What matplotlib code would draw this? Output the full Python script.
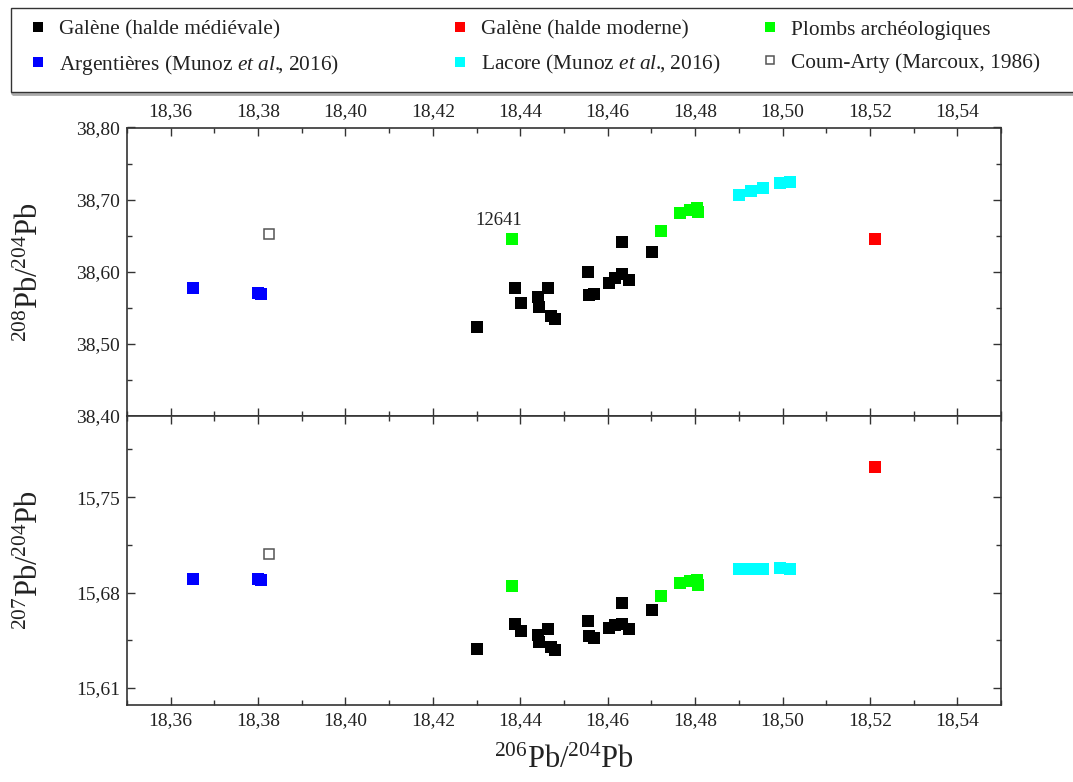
import matplotlib
matplotlib.use('Agg')
import matplotlib.pyplot as plt
from matplotlib.ticker import MultipleLocator, FuncFormatter
from matplotlib.patches import Rectangle

plt.rcParams['font.family'] = ['Liberation Serif', 'DejaVu Serif']
plt.rcParams['mathtext.fontset'] = 'custom'
plt.rcParams['mathtext.rm'] = 'Liberation Serif'
plt.rcParams['mathtext.it'] = 'Liberation Serif:italic'

# Galène (halde médiévale)
med_206 = [18.4301, 18.4389, 18.4401, 18.4440, 18.4442, 18.4464, 18.4471, 18.4479, 18.4556,
           18.4557, 18.4568, 18.4603, 18.4617, 18.4632, 18.4632, 18.4649, 18.4702]
med_208 = [38.524, 38.578, 38.5565, 38.565, 38.551, 38.578, 38.538, 38.535, 38.600,
           38.568, 38.569, 38.584, 38.591, 38.597, 38.641, 38.588, 38.628]
med_207 = [15.6383, 15.6567, 15.652, 15.6489, 15.644, 15.6533, 15.6398, 15.6379, 15.6594,
           15.6481, 15.6464, 15.6542, 15.6562, 15.6569, 15.672, 15.653, 15.6672]

# Galène (halde moderne)
mod_206 = [18.5212]
mod_208 = [38.646]
mod_207 = [15.772]

# Plombs archéologiques
pb_206 = [18.4382, 18.4721, 18.4766, 18.4788, 18.4805, 18.4807]
pb_208 = [38.646, 38.657, 38.681, 38.686, 38.689, 38.683]
pb_207 = [15.685, 15.6774, 15.6868, 15.6884, 15.6892, 15.6858]
pb_label = '12641'

# Argentières (Munoz et al., 2016)
arg_206 = [18.3650, 18.3800, 18.3806]
arg_208 = [38.577, 38.570, 38.569]
arg_207 = [15.690, 15.6897, 15.6893]

# Lacore (Munoz et al., 2016)
lac_206 = [18.4900, 18.4927, 18.4956, 18.4994, 18.5017]
lac_208 = [38.707, 38.7116, 38.7157, 38.7232, 38.724]
lac_207 = [15.6972, 15.697, 15.6975, 15.6982, 15.6975]

# Coum-Arty (Marcoux, 1986)
ca_206 = [18.3825]
ca_208 = [38.652]
ca_207 = [15.7085]

W, H = 1073, 782
fig = plt.figure(figsize=(W / 100, H / 100), dpi=100)
L, R, T, M, B = 127, 1001, 127.5, 416, 705
ax1 = fig.add_axes([L / W, 1 - M / H, (R - L) / W, (M - T) / H])
ax2 = fig.add_axes([L / W, 1 - B / H, (R - L) / W, (B - M) / H], sharex=ax1)

ms = 8.6
groups = [
    ('Galène (halde médiévale)', med_206, med_208, med_207, 'black', 'black'),
    ('Galène (halde moderne)', mod_206, mod_208, mod_207, '#ff0000', '#ff0000'),
    ('Plombs archéologiques', pb_206, pb_208, pb_207, '#00ff00', '#00ff00'),
    ('Argentières (Munoz $\\mathit{et\\ al.}\\!\\!$, 2016)', arg_206, arg_208, arg_207, '#0000ff', '#0000ff'),
    ('Lacore (Munoz $\\mathit{et\\ al.}\\!\\!$, 2016)', lac_206, lac_208, lac_207, '#00ffff', '#00ffff'),
    ('Coum-Arty (Marcoux, 1986)', ca_206, ca_208, ca_207, 'white', '#555555'),
]
handles = []
for lab, x, y8, y7, fc, ec in groups:
    size = ms if fc != 'white' else 7.0
    mew = 0 if fc != 'white' else 1.1
    h, = ax1.plot(x, y8, 's', ms=size, mfc=fc, mec=ec, mew=mew, ls='none', label=lab)
    ax2.plot(x, y7, 's', ms=size, mfc=fc, mec=ec, mew=mew, ls='none')
    handles.append(h)

ax1.annotate(pb_label, (pb_206[0], pb_208[0]), xytext=(-10, 13), textcoords='offset points',
             ha='center', va='center', fontsize=13.5, color='#222222')

comma = FuncFormatter(lambda v, p: ('%.2f' % v).replace('.', ','))
ax1.set_xlim(18.35, 18.55)
ax1.set_ylim(38.40, 38.80)
ax2.set_ylim(15.5975, 15.8095)
for ax in (ax1, ax2):
    ax.xaxis.set_major_locator(MultipleLocator(0.02))
    ax.xaxis.set_minor_locator(MultipleLocator(0.01))
    ax.xaxis.set_major_formatter(comma)
    ax.yaxis.set_major_formatter(comma)
    ax.tick_params(which='both', direction='in', top=True, right=True,
                   labelsize=14, color='#333333', labelcolor='#222222', width=1.0, pad=5)
    ax.tick_params(which='major', length=5.5)
    ax.tick_params(which='minor', length=3.5)
    for s in ax.spines.values():
        s.set_linewidth(1.2)
        s.set_color('#333333')
ax1.yaxis.set_major_locator(MultipleLocator(0.1))
ax1.yaxis.set_minor_locator(MultipleLocator(0.05))
ax2.yaxis.set_major_locator(MultipleLocator(0.07))
ax2.yaxis.set_minor_locator(MultipleLocator(0.035))
ax1.tick_params(labeltop=True, labelbottom=False)
ax2.tick_params(labeltop=False, labelbottom=True)

fig.text(30 / W, 1 - 272 / H, '$^{208}$Pb/$^{204}$Pb', rotation=90, ha='center', va='center',
         fontsize=22, color='#222222')
fig.text(30 / W, 1 - 560 / H, '$^{207}$Pb/$^{204}$Pb', rotation=90, ha='center', va='center',
         fontsize=22, color='#222222')
fig.text((L + R) / 2 / W, 1 - 760 / H, '$^{206}$Pb/$^{204}$Pb', ha='center', va='center',
         fontsize=22, color='#222222')

# legend frame
fig.patches.append(Rectangle((12 / W, 1 - 94 / H), 1.2, 84 / H, transform=fig.transFigure,
                             fill=False, edgecolor='#aaaaaa', lw=2.0, zorder=0))
fig.patches.append(Rectangle((11 / W, 1 - 92 / H), 1.2, 84 / H, transform=fig.transFigure,
                             facecolor='white', edgecolor='#333333', lw=1.0, zorder=1))

cols = [(27, [handles[0], handles[3]]), (449, [handles[1], handles[4]]), (759, [handles[2], handles[5]])]
for x0, hs in cols:
    lg = fig.legend(handles=hs, loc='upper left', bbox_to_anchor=(x0 / W, 1 - 20 / H),
                    frameon=False, fontsize=15.4, handlelength=1.0, handletextpad=0.5,
                    labelspacing=0.6, borderpad=0, borderaxespad=0, markerscale=0.9)
    for t in lg.get_texts():
        t.set_color('#222222')

fig.savefig('out.png', dpi=100)
